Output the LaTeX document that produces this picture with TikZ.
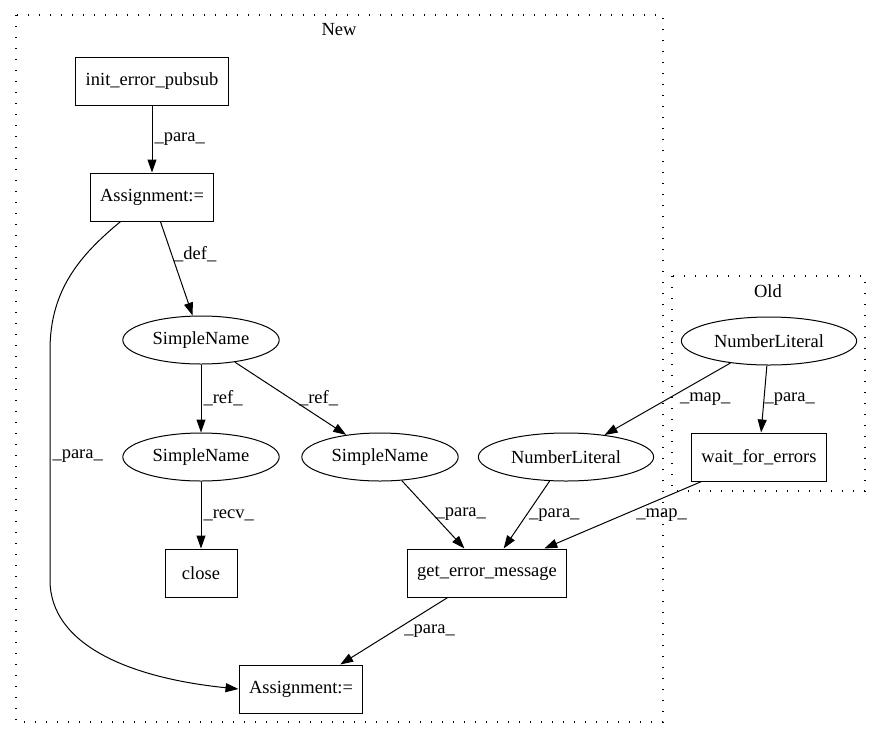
\documentclass[tikz,border=0pt]{standalone}
\usepackage{fontspec}
\setmainfont{Liberation Serif}
\usetikzlibrary{shapes.geometric,arrows.meta}
\newcommand{\gvfont}{\fontsize{18.5}{22}\selectfont}
\tikzset{
  opbox/.style={draw,rectangle,line width=1pt,minimum width=72pt,
    minimum height=48pt,inner xsep=10pt,font=\gvfont},
  exprnode/.style={draw,ellipse,line width=1pt,minimum height=48pt,
    inner xsep=7pt,font=\gvfont},
  cluster/.style={draw,line width=1.4pt,dash pattern=on 1.4pt off 9.6pt}
}

\begin{document}
\begin{tikzpicture}[x=1pt,y=-1pt,
  edge/.style={-{Triangle[length=13pt,width=9pt]},line width=1pt},
  lbl/.style={right,inner sep=2pt,font=\gvfont}
]
  \useasboundingbox (0,0) rectangle (881,740);
  % clusters
  \draw[cluster] (16,15) rectangle (663,722);
  \node[font=\gvfont] (newlbl) at (339,30) {New};
  \draw[cluster] (672,276) rectangle (865,491);
  \node[font=\gvfont] (oldlbl) at (768,291) {Old};
  % New
  \node[opbox] (ierr) at (152,81) {init\_error\_pubsub};
  \node[opbox] (asg1) at (152,197) {Assignment:=};
  \node[exprnode] (sn1) at (201,340) {SimpleName};
  \node[exprnode] (sn2) at (201,457) {SimpleName};
  \node[exprnode] (sn3) at (380,457) {SimpleName};
  \node[exprnode] (nl1) at (566,457) {NumberLiteral};
  \node[opbox] (close) at (201,573) {close};
  \node[opbox] (gem) at (487,573) {get\_error\_message};
  \node[opbox] (asg2) at (301,689) {Assignment:=};
  % Old
  \node[exprnode] (nl0) at (769,341) {NumberLiteral};
  \node[opbox] (wfe) at (759,457) {wait\_for\_errors};
  % edges
  \draw[edge] (ierr) -- node[lbl] {\_para\_} (asg1);
  \draw[edge] (asg1) -- node[lbl,pos=0.35] {\_def\_} (sn1);
  \draw[edge] (asg1.218) .. controls (80,255) and (50,290) .. (50,350)
    -- node[lbl,pos=0.46] {\_para\_} (50,580)
    .. controls (50,645) and (130,678) .. (asg2.west);
  \draw[edge] (sn1) -- node[lbl] {\_ref\_} (sn2);
  \draw[edge] (sn1) -- node[lbl,xshift=6pt] {\_ref\_} (sn3);
  \draw[edge] (sn2) -- node[lbl] {\_recv\_} (close);
  \draw[edge] (sn3) -- node[lbl] {\_para\_} (gem);
  \draw[edge] (nl1) -- node[lbl] {\_para\_} (gem);
  \draw[edge] (wfe) -- node[lbl,xshift=11pt] {\_map\_} (gem);
  \draw[edge] (nl0) -- node[lbl,xshift=10pt] {\_map\_} (nl1);
  \draw[edge] (nl0) -- node[lbl,xshift=-2pt] {\_para\_} (wfe);
  \draw[edge] (gem) -- node[lbl,xshift=8pt] {\_para\_} (asg2);
\end{tikzpicture}
\end{document}
